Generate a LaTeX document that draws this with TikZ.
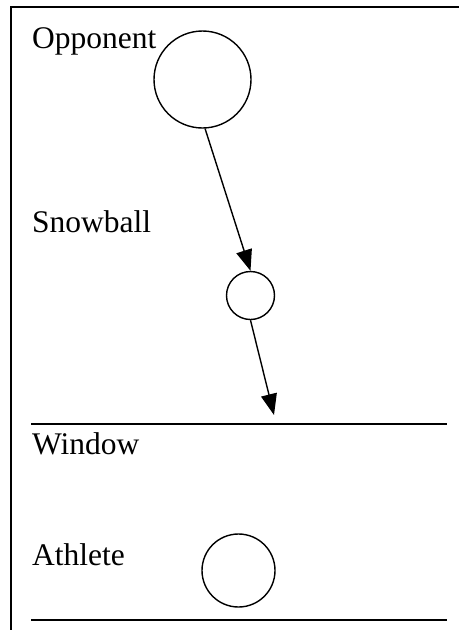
\documentclass[tikz,border=0pt]{standalone}
\usepackage{fontspec}
\setmainfont{Liberation Serif}
\usetikzlibrary{arrows.meta}
\begin{document}
\begin{tikzpicture}[x=1pt,y=-1pt,
  lbl/.style={anchor=base west,inner sep=0pt,font=\fontsize{31.5}{36}\selectfont},
  ball/.style={draw,circle,line width=1.4pt,inner sep=0pt},
  frameline/.style={line width=1.8pt},
  arr/.style={line width=1.4pt,-{Triangle[length=21pt,width=16pt]}}]
\useasboundingbox (0,0) rectangle (459,630);
\draw[frameline] (11,630) -- (11,7) -- (459,7);
\node[lbl] (opp) at (32,48) {Opponent};
\node[lbl] (snowlbl) at (32,232) {Snowball};
\node[lbl] (win) at (32,454) {Window};
\node[lbl] (ath) at (32,565) {Athlete};
\node[ball,minimum size=97pt] (oc) at (202.5,79.5) {};
\node[ball,minimum size=48pt] (sc) at (250.5,295.5) {};
\node[ball,minimum size=73pt] (ac) at (238.5,570.5) {};
\draw[line width=2.4pt] (31,424) -- (447,424);
\draw[line width=2.4pt] (31,620) -- (447,620);
\coordinate (tip) at (274,415);
\draw[arr] (oc.-87) -- (sc.north);
\draw[arr] (sc.south) -- (tip);
\end{tikzpicture}
\end{document}
